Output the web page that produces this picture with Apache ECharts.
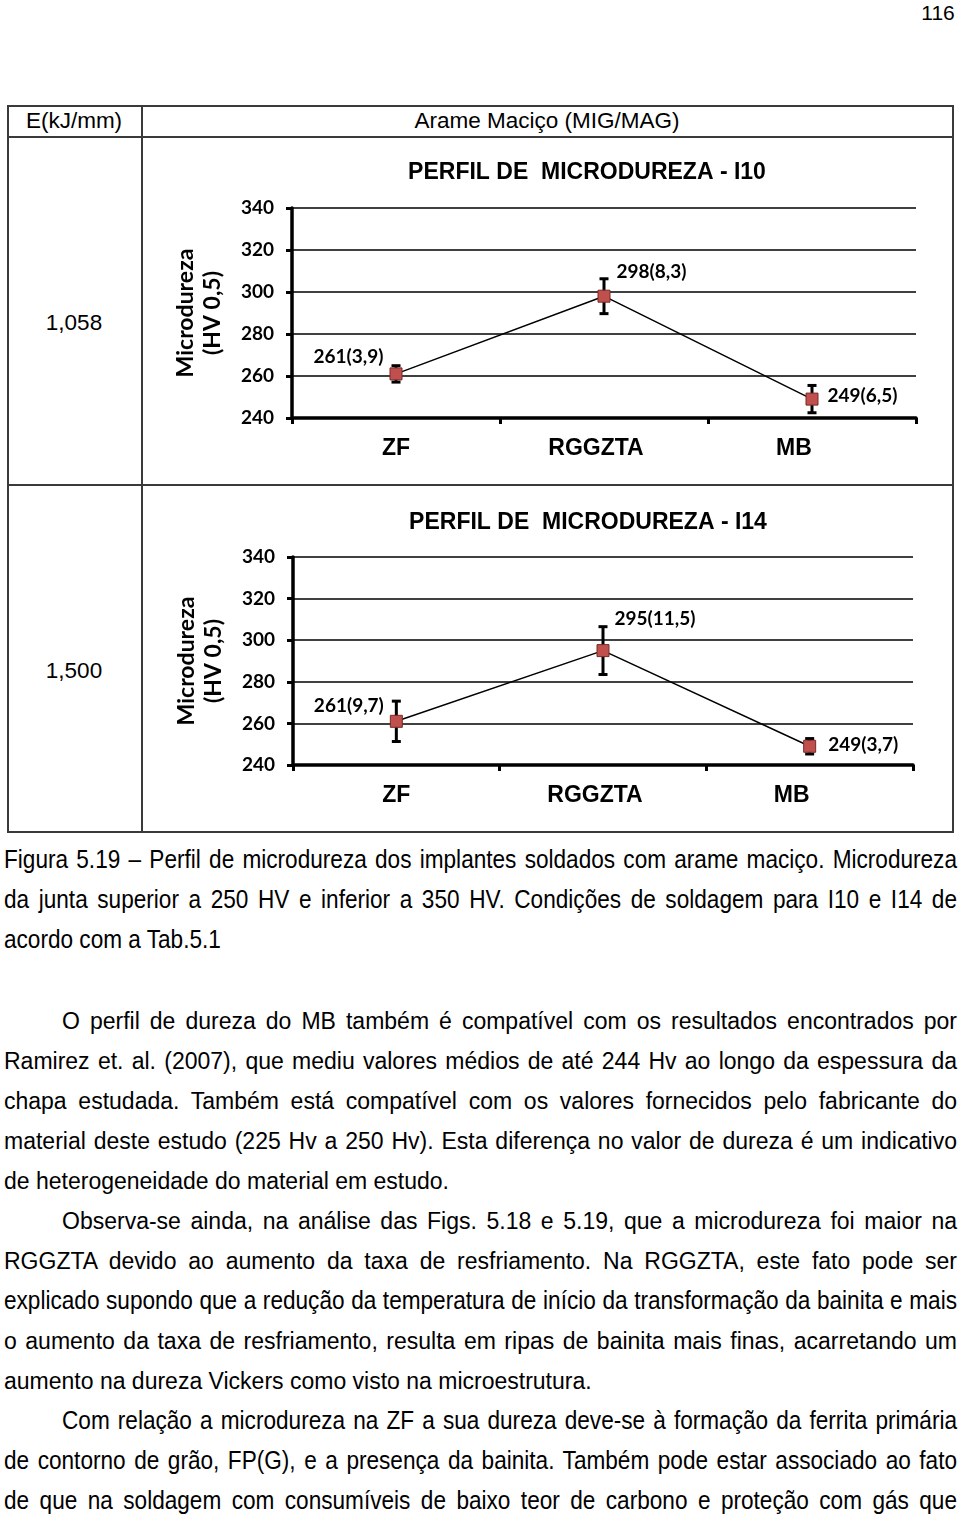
<!DOCTYPE html>
<html><head><meta charset="utf-8">
<script src="https://cdn.jsdelivr.net/npm/echarts@6/dist/echarts.min.js"></script>
<style>
body{margin:0;width:960px;height:1515px;position:relative;background:#fff;overflow:hidden;font-family:"Liberation Sans",Arial,sans-serif;color:#000}
.ln{position:absolute;left:4px;width:953px;height:40px;line-height:40px;font-size:23px;white-space:nowrap}
.in{left:62px;width:895px}
.j{text-align:justify;text-align-last:justify}
.n{font-size:22.6px;transform:scaleY(1.1);transform-origin:50% 50%}
.b{position:absolute;background:#3a3a3a}
.t{position:absolute;font-size:22.5px;line-height:24px;transform:translate(-50%,-50%);white-space:nowrap}
.chart{position:absolute}
</style>
</head><body>
<div class="t" style="left:938px;top:13px;font-size:21px">116</div>

<div class="b" style="left:7px;top:105px;width:947px;height:1.5px"></div>
<div class="b" style="left:7px;top:136px;width:947px;height:1.5px"></div>
<div class="b" style="left:7px;top:484px;width:947px;height:1.5px"></div>
<div class="b" style="left:7px;top:831px;width:947px;height:1.5px"></div>
<div class="b" style="left:7px;top:105px;width:1.5px;height:727px"></div>
<div class="b" style="left:141px;top:105px;width:1.5px;height:727px"></div>
<div class="b" style="left:952px;top:105px;width:1.5px;height:727px"></div>

<div class="t" style="left:74px;top:121px">E(kJ/mm)</div>
<div class="t" style="left:547px;top:121px">Arame Maciço (MIG/MAG)</div>
<div class="t" style="left:74px;top:323px">1,058</div>
<div class="t" style="left:74px;top:671px">1,500</div>

<div id="c1" class="chart" style="left:143px;top:137px;width:809px;height:346px"></div>
<div id="c2" class="chart" style="left:143px;top:486px;width:809px;height:345px"></div>

<div class="ln n j" style="top:840px">Figura 5.19 – Perfil de microdureza dos implantes soldados com arame maciço. Microdureza</div>
<div class="ln n j" style="top:880px">da junta superior a 250 HV e inferior a 350 HV. Condições de soldagem para I10 e I14 de</div>
<div class="ln n" style="top:920px">acordo com a Tab.5.1</div>

<div class="ln in j" style="top:1001px">O perfil de dureza do MB também é compatível com os resultados encontrados por</div>
<div class="ln j" style="top:1041px">Ramirez et. al. (2007), que mediu valores médios de até 244 Hv ao longo da espessura da</div>
<div class="ln j" style="top:1081px">chapa estudada. Também está compatível com os valores fornecidos pelo fabricante do</div>
<div class="ln j" style="top:1121px">material deste estudo (225 Hv a 250 Hv). Esta diferença no valor de dureza é um indicativo</div>
<div class="ln" style="top:1161px">de heterogeneidade do material em estudo.</div>
<div class="ln in j" style="top:1201px">Observa-se ainda, na análise das Figs. 5.18 e 5.19, que a microdureza foi maior na</div>
<div class="ln j" style="top:1241px">RGGZTA devido ao aumento da taxa de resfriamento. Na RGGZTA, este fato pode ser</div>
<div class="ln n j" style="top:1281px">explicado supondo que a redução da temperatura de início da transformação da bainita e mais</div>
<div class="ln j" style="top:1321px">o aumento da taxa de resfriamento, resulta em ripas de bainita mais finas, acarretando um</div>
<div class="ln" style="top:1361px">aumento na dureza Vickers como visto na microestrutura.</div>
<div class="ln in n j" style="top:1401px">Com relação a microdureza na ZF a sua dureza deve-se à formação da ferrita primária</div>
<div class="ln n j" style="top:1441px">de contorno de grão, FP(G), e a presença da bainita. Também pode estar associado ao fato</div>
<div class="ln n j" style="top:1481px">de que na soldagem com consumíveis de baixo teor de carbono e proteção com gás que</div>

<script>
const categories = ['ZF', 'RGGZTA', 'MB'];
const yTicks = [240, 260, 280, 300, 320, 340];
const i10Values = [261, 298, 249];
const i10Sd = [3.9, 8.3, 6.5];
const i14Values = [261, 295, 249];
const i14Sd = [9.7, 11.5, 3.7];
const titleI10 = 'PERFIL DE  MICRODUREZA - I10';
const titleI14 = 'PERFIL DE  MICRODUREZA - I14';
const yName = 'Microdureza\n(HV 0,5)';

const labelFont = 'Lato, "Open Sans", sans-serif';
const arialFont = '"Liberation Sans", Arial, sans-serif';

// per-category horizontal nudges of the category labels (left shift, px)
const catShift = { ZF: 0, RGGZTA: 8, MB: 18 };

function makeOption(title, values, sd, grid, titlePos, labelPlace) {
  const errData = values.map((v, i) => [i, v - sd[i], v + sd[i]]);
  const rich = {};
  categories.forEach(c => {
    rich[c] = { color: '#000', fontFamily: arialFont, fontWeight: 'bold', fontSize: 23, padding: [0, catShift[c] * 2, 0, 0] };
  });
  return {
    animation: false,
    grid: grid,
    graphic: [{
      type: 'text', x: titlePos[0], y: titlePos[1],
      style: { text: title, font: 'bold 23px ' + arialFont, fill: '#000', align: 'center', verticalAlign: 'middle' }
    }],
    xAxis: {
      type: 'category', data: categories, boundaryGap: true,
      axisLine: { lineStyle: { color: '#000', width: 3.5 } },
      axisTick: { show: true, interval: 0, length: 6, lineStyle: { color: '#000', width: 3 } },
      axisLabel: {
        interval: 0, hideOverlap: false,
        color: '#000', fontFamily: arialFont, fontWeight: 'bold', fontSize: 23, margin: 19,
        formatter: function (v) { return '{' + v + '|' + v + '}'; }, rich: rich
      },
      splitLine: { show: false }
    },
    yAxis: {
      type: 'value', min: yTicks[0], max: yTicks[yTicks.length - 1], interval: yTicks[1] - yTicks[0],
      name: yName, nameLocation: 'middle', nameGap: 66, nameRotate: 90,
      nameTextStyle: { color: '#000', fontFamily: labelFont, fontWeight: 'bold', fontSize: 23, lineHeight: 27 },
      axisLine: { show: true, lineStyle: { color: '#000', width: 3.5 } },
      axisTick: { show: true, length: 6, lineStyle: { color: '#000', width: 3 } },
      axisLabel: { color: '#000', fontFamily: labelFont, fontWeight: 'bold', fontSize: 19, margin: 18 },
      splitLine: { show: true, lineStyle: { color: '#000', width: 1.5 } }
    },
    series: [{
      type: 'custom', z: 2,
      data: errData,
      renderItem: function (params, api) {
        const x = api.value(0);
        const pLo = api.coord([x, api.value(1)]);
        const pHi = api.coord([x, api.value(2)]);
        const w = 4.5;
        const st = { stroke: '#000', lineWidth: 3 };
        return {
          type: 'group', children: [
            { type: 'line', shape: { x1: pHi[0], y1: pHi[1], x2: pLo[0], y2: pLo[1] }, style: st },
            { type: 'line', shape: { x1: pHi[0] - w, y1: pHi[1], x2: pHi[0] + w, y2: pHi[1] }, style: st },
            { type: 'line', shape: { x1: pLo[0] - w, y1: pLo[1], x2: pLo[0] + w, y2: pLo[1] }, style: st }
          ]
        };
      }
    }, {
      type: 'line', z: 3,
      data: values.map((v, i) => ({ value: v, label: labelPlace[i] })),
      symbol: 'rect', symbolSize: 12,
      itemStyle: { color: '#C0504D', borderColor: '#7a2a28', borderWidth: 1 },
      lineStyle: { color: '#000', width: 1.5 },
      label: {
        show: true, color: '#000', fontFamily: labelFont, fontWeight: 'bold', fontSize: 19,
        formatter: function (p) { return values[p.dataIndex] + '(' + String(sd[p.dataIndex]).replace('.', ',') + ')'; }
      }
    }]
  };
}

const place1 = [
  { position: 'left', distance: 6, offset: [0, -17] },
  { position: 'right', distance: 6, offset: [0, -24] },
  { position: 'right', distance: 9, offset: [0, -3] }
];
const place2 = [
  { position: 'left', distance: 6, offset: [0, -15] },
  { position: 'right', distance: 5, offset: [0, -32] },
  { position: 'right', distance: 12, offset: [0, -1] }
];

const c1 = echarts.init(document.getElementById('c1'));
c1.setOption(makeOption(titleI10, i10Values, i10Sd, { left: 149, top: 71, width: 624, height: 210 }, [444, 36], place1));
const c2 = echarts.init(document.getElementById('c2'));
c2.setOption(makeOption(titleI14, i14Values, i14Sd, { left: 150, top: 71, width: 620, height: 208 }, [445, 37], place2));
</script>
</body></html>
